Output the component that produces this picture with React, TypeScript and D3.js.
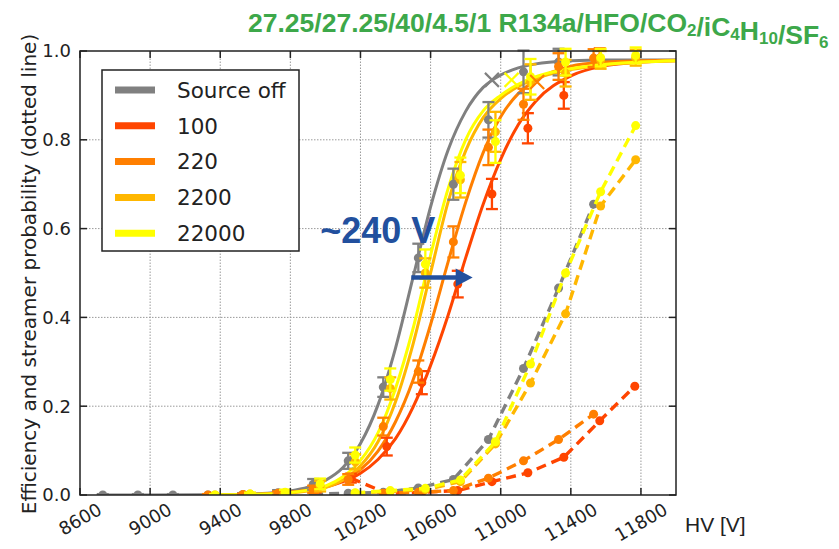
import React, { useEffect, useRef } from "react";
import * as d3 from "d3";

const W = 839;
const H = 549;
const margin = { top: 51, right: 163, bottom: 54, left: 80 };

const seriesNames = ["Source off", "100", "220", "2200", "22000"];
const seriesColors = ["#808080", "#ff4500", "#ff7f00", "#ffb700", "#ffff00"];

const xTicks = [8600, 9000, 9400, 9800, 10200, 10600, 11000, 11400, 11800];
const yTicks = [0, 0.2, 0.4, 0.6, 0.8, 1.0];

// fitted efficiency curves on a common HV grid (null = not drawn)
const fitHV = [8700, 9000, 9400, 9600, 9800, 9900, 10000, 10100, 10200, 10300, 10400, 10500, 10600, 10700, 10800, 10900, 11000, 11100, 11200, 11400, 11600, 11800, 12000];
const fitOff = [0, 0, 0.0006, 0.0024, 0.009, 0.0175, 0.033, 0.062, 0.116, 0.203, 0.331, 0.49, 0.649, 0.777, 0.864, 0.918, 0.946, 0.962, 0.971, 0.978, 0.98, 0.98, 0.98];
const fit100 = [null, null, null, null, 0.0064, 0.011, 0.018, 0.03, 0.049, 0.08, 0.127, 0.198, 0.292, 0.405, 0.534, 0.655, 0.756, 0.834, 0.887, 0.944, 0.967, 0.975, 0.978];
const fit220 = [null, null, null, 0.0019, 0.006, 0.011, 0.019, 0.033, 0.057, 0.099, 0.165, 0.259, 0.384, 0.525, 0.659, 0.771, 0.852, 0.904, 0.934, 0.966, 0.975, 0.978, 0.979];
const fit2200 = [null, null, 0.0003, 0.0012, 0.0045, 0.009, 0.017, 0.034, 0.066, 0.12, 0.21, 0.34, 0.5, 0.66, 0.775, 0.85, 0.893, 0.92, 0.938, 0.958, 0.969, 0.975, 0.978];
const fit22000 = [null, null, 0.0004, 0.0015, 0.0055, 0.011, 0.02, 0.041, 0.078, 0.14, 0.24, 0.375, 0.54, 0.69, 0.8, 0.865, 0.9, 0.925, 0.942, 0.96, 0.97, 0.975, 0.978];

// measured efficiency points with error bars
const hvOff = [8730, 8930, 9130, 9330, 9530, 9730, 9930, 10130, 10330, 10530, 10730, 10930, 11130, 11330];
const effOff = [0, 0, 0, 0, 0.001, 0.005, 0.024, 0.077, 0.243, 0.534, 0.7, 0.845, 0.953, 0.975];
const errOff = [0.002, 0.002, 0.002, 0.002, 0.003, 0.006, 0.012, 0.018, 0.022, 0.032, 0.035, 0.04, 0.048, 0.03];

const hv100 = [9745, 9945, 10145, 10350, 10550, 10755, 10950, 11155, 11360, 11565];
const eff100 = [0.003, 0.012, 0.038, 0.109, 0.253, 0.475, 0.678, 0.826, 0.9, 0.984];
const err100 = [0.004, 0.006, 0.01, 0.02, 0.026, 0.03, 0.034, 0.034, 0.03, 0.022];

const hv220 = [9330, 9530, 9730, 9930, 10130, 10330, 10530, 10730, 10930, 11130, 11330, 11530];
const eff220 = [0, 0.001, 0.004, 0.013, 0.035, 0.154, 0.278, 0.57, 0.783, 0.88, 0.965, 0.984];
const err220 = [0.002, 0.002, 0.004, 0.008, 0.012, 0.02, 0.025, 0.035, 0.04, 0.035, 0.03, 0.02];

const hv2200 = [9370, 9570, 9770, 9970, 10170, 10370, 10570, 10770, 10970, 11170, 11370, 11570, 11770];
const eff2200 = [0, 0.002, 0.005, 0.02, 0.075, 0.24, 0.5, 0.71, 0.818, 0.93, 0.95, 0.98, 0.985];
const err2200 = [0.002, 0.003, 0.006, 0.012, 0.017, 0.025, 0.033, 0.04, 0.045, 0.04, 0.03, 0.02, 0.018];

const hv22000 = [9370, 9570, 9770, 9970, 10170, 10370, 10570, 10770, 10970, 11170, 11370, 11570, 11770];
const eff22000 = [0, 0.002, 0.006, 0.025, 0.09, 0.26, 0.52, 0.72, 0.796, 0.942, 0.975, 0.985, 0.99];
const err22000 = [0.002, 0.003, 0.006, 0.012, 0.017, 0.025, 0.033, 0.04, 0.048, 0.04, 0.03, 0.02, 0.018];

// streamer probability (dashed)
const strHVOff = [9930, 10130, 10330, 10530, 10730, 10930, 11130, 11330, 11530];
const strOff = [0.002, 0.004, 0.006, 0.016, 0.035, 0.125, 0.285, 0.466, 0.655];
const strHV100 = [10145, 10350, 10550, 10755, 10950, 11155, 11360, 11565, 11765];
const str100 = [0.038, 0.004, 0.006, 0.01, 0.03, 0.05, 0.085, 0.167, 0.245];
const strHV220 = [10330, 10530, 10730, 10930, 11130, 11330, 11530];
const str220 = [0.004, 0.006, 0.01, 0.038, 0.077, 0.125, 0.182];
const strHV2200 = [10170, 10370, 10570, 10770, 10970, 11170, 11370, 11570, 11770];
const str2200 = [0.004, 0.008, 0.012, 0.03, 0.115, 0.252, 0.408, 0.651, 0.755];
const strHV22000 = [10170, 10370, 10570, 10770, 10970, 11170, 11370, 11570, 11770];
const str22000 = [0.005, 0.01, 0.015, 0.034, 0.12, 0.295, 0.5, 0.683, 0.832];

// working point crosses: series index, HV, efficiency
const wpSeries = [0, 4, 2];
const wpHV = [10950, 11062, 11208];
const wpEff = [0.935, 0.935, 0.93];

// "~240 V" shift arrow
const arrowHV = [10490, 10840];
const arrowEff = 0.49;

const App: React.FC = () => {
    const svgRef = useRef<SVGSVGElement | null>(null);

    useEffect(() => {
        if (!svgRef.current) return;
        const svg = d3.select(svgRef.current);
        svg.selectAll("*").remove();

        const x = d3.scaleLinear().domain([8600, 12000]).range([margin.left, W - margin.right]);
        const y = d3.scaleLinear().domain([0, 1]).range([H - margin.bottom, margin.top]);
        const x0 = margin.left, x1 = W - margin.right, y0 = H - margin.bottom, y1 = margin.top;

        const fits = [fitOff, fit100, fit220, fit2200, fit22000];
        const pts = [
            [hvOff, effOff, errOff],
            [hv100, eff100, err100],
            [hv220, eff220, err220],
            [hv2200, eff2200, err2200],
            [hv22000, eff22000, err22000],
        ];
        const strs = [
            [strHVOff, strOff],
            [strHV100, str100],
            [strHV220, str220],
            [strHV2200, str2200],
            [strHV22000, str22000],
        ];

        svg.append("defs").append("clipPath").attr("id", "plotclip")
            .append("rect").attr("x", x0).attr("y", y1 - 6).attr("width", x1 - x0).attr("height", y0 - y1 + 6);

        // grid
        const grid = svg.append("g").attr("stroke", "#9a9a9a").attr("stroke-width", 1).attr("stroke-dasharray", "1.5,1.5");
        xTicks.slice(1).forEach((t) => {
            grid.append("line").attr("x1", x(t)).attr("x2", x(t)).attr("y1", y0).attr("y2", y1);
        });
        yTicks.slice(1, -1).forEach((t) => {
            grid.append("line").attr("x1", x0).attr("x2", x1).attr("y1", y(t)).attr("y2", y(t));
        });

        const plot = svg.append("g").attr("clip-path", "url(#plotclip)");

        // fit curves
        fits.forEach((f, i) => {
            const line = d3.line<number>()
                .defined((d) => d !== null)
                .x((d, j) => x(fitHV[j]))
                .y((d) => y(d as number))
                .curve(d3.curveMonotoneX);
            plot.append("path")
                .attr("d", line(f as number[]))
                .attr("fill", "none")
                .attr("stroke", seriesColors[i])
                .attr("stroke-width", 3);
        });

        // streamer dashed lines
        strs.forEach((s, i) => {
            const [hv, p] = s;
            const line = d3.line<number>().x((d, j) => x(hv[j])).y((d) => y(d));
            plot.append("path")
                .attr("d", line(p))
                .attr("fill", "none")
                .attr("stroke", seriesColors[i])
                .attr("stroke-width", 3.4)
                .attr("stroke-dasharray", "10,6");
            plot.append("g").selectAll("circle").data(p).join("circle")
                .attr("cx", (d, j) => x(hv[j]))
                .attr("cy", (d) => y(d))
                .attr("r", 4.5)
                .attr("fill", seriesColors[i]);
        });

        // efficiency points with error bars
        pts.forEach((s, i) => {
            const [hv, eff, err] = s;
            const g = plot.append("g").attr("stroke", seriesColors[i]).attr("stroke-width", 2.3);
            eff.forEach((e, j) => {
                const cx = x(hv[j]);
                const ya = y(e + err[j]);
                const yb = y(Math.max(0, e - err[j]));
                g.append("line").attr("x1", cx).attr("x2", cx).attr("y1", ya).attr("y2", yb);
                g.append("line").attr("x1", cx - 6).attr("x2", cx + 6).attr("y1", ya).attr("y2", ya);
                g.append("line").attr("x1", cx - 6).attr("x2", cx + 6).attr("y1", yb).attr("y2", yb);
            });
            plot.append("g").selectAll("circle").data(eff).join("circle")
                .attr("cx", (d, j) => x(hv[j]))
                .attr("cy", (d) => y(d))
                .attr("r", 4.5)
                .attr("fill", seriesColors[i]);
        });

        // working point crosses
        wpSeries.forEach((si, k) => {
            const cx = x(wpHV[k]);
            const cy = y(wpEff[k]);
            const s = 7;
            plot.append("path")
                .attr("d", `M${cx - s},${cy - s}L${cx + s},${cy + s}M${cx - s},${cy + s}L${cx + s},${cy - s}`)
                .attr("stroke", seriesColors[si])
                .attr("stroke-width", 2.2)
                .attr("fill", "none");
        });

        // frame and inward ticks
        const fr = svg.append("g").attr("stroke", "#222").attr("stroke-width", 1.5).attr("fill", "none");
        fr.append("rect").attr("x", x0).attr("y", y1).attr("width", x1 - x0).attr("height", y0 - y1);
        xTicks.forEach((t) => {
            fr.append("line").attr("x1", x(t)).attr("x2", x(t)).attr("y1", y0).attr("y2", y0 - 7);
            fr.append("line").attr("x1", x(t)).attr("x2", x(t)).attr("y1", y1).attr("y2", y1 + 7);
        });
        yTicks.forEach((t) => {
            fr.append("line").attr("x1", x0).attr("x2", x0 + 7).attr("y1", y(t)).attr("y2", y(t));
            fr.append("line").attr("x1", x1).attr("x2", x1 - 7).attr("y1", y(t)).attr("y2", y(t));
        });

        // tick labels
        svg.append("g").selectAll("text").data(yTicks).join("text")
            .attr("x", x0 - 9)
            .attr("y", (d) => y(d))
            .attr("dy", "0.36em")
            .attr("text-anchor", "end")
            .attr("font-family", "DejaVu Sans")
            .attr("font-size", 18)
            .attr("fill", "#222")
            .text((d) => d.toFixed(1));

        svg.append("g").selectAll("text").data(xTicks).join("text")
            .attr("transform", (d) => `translate(${x(d)},${String(d).length > 4 ? 522 : 519}) rotate(-30)`)
            .attr("text-anchor", "middle")
            .attr("dy", "0.36em")
            .attr("font-family", "DejaVu Sans")
            .attr("font-size", 18)
            .attr("fill", "#222")
            .text((d) => String(d));

        // axis titles
        svg.append("text")
            .attr("transform", `translate(29,${(y0 + y1) / 2 + 1}) rotate(-90)`)
            .attr("text-anchor", "middle")
            .attr("dy", "0.36em")
            .attr("font-family", "DejaVu Sans")
            .attr("font-size", 20)
            .attr("fill", "#222")
            .text("Efficiency and streamer probability (dotted line)");

        svg.append("text")
            .attr("x", 685)
            .attr("y", 532)
            .attr("font-family", "Liberation Sans")
            .attr("font-size", 21)
            .attr("fill", "#222")
            .text("HV [V]");

        // legend
        const lg = svg.append("g");
        lg.append("rect").attr("x", 102).attr("y", 70).attr("width", 197).attr("height", 181)
            .attr("fill", "white").attr("stroke", "#222").attr("stroke-width", 1.5);
        seriesNames.forEach((n, i) => {
            const ly = 90 + i * 35.8;
            lg.append("line").attr("x1", 115).attr("x2", 155).attr("y1", ly).attr("y2", ly)
                .attr("stroke", seriesColors[i]).attr("stroke-width", 7);
            lg.append("text").attr("x", 177).attr("y", ly).attr("dy", "0.36em")
                .attr("font-family", "DejaVu Sans").attr("font-size", 21.5).attr("fill", "#222").text(n);
        });

        // title
        const title = svg.append("text")
            .attr("x", 248)
            .attr("y", 31.5)
            .attr("font-family", "Liberation Sans")
            .attr("font-weight", "bold")
            .attr("font-size", 26.5)
            .attr("fill", "#3da84a");
        const parts: [string, boolean][] = [
            ["27.25/27.25/40/4.5/1 R134a/HFO/CO", false], ["2", true], ["/iC", false], ["4", true],
            ["H", false], ["10", true], ["/SF", false], ["6", true],
        ];
        parts.forEach(([t, sub]) => {
            title.append("tspan")
                .attr("font-size", sub ? 17 : 26.5)
                .attr("dy", sub ? 4 : 0)
                .text(t);
            if (sub) title.append("tspan").attr("dy", -4).text("");
        });

        // annotation
        svg.append("text")
            .attr("x", x(9970))
            .attr("y", 243)
            .attr("font-family", "Liberation Sans")
            .attr("font-weight", "bold")
            .attr("font-size", 36)
            .attr("fill", "#22509e")
            .text("~240 V");
        const ay = y(arrowEff);
        const ax0 = x(arrowHV[0]);
        const ax1 = x(arrowHV[1]);
        svg.append("line").attr("x1", ax0).attr("x2", ax1 - 14).attr("y1", ay).attr("y2", ay)
            .attr("stroke", "#22509e").attr("stroke-width", 4.5);
        svg.append("path")
            .attr("d", `M${ax1 - 17},${ay - 9}L${ax1},${ay}L${ax1 - 17},${ay + 9}Z`)
            .attr("fill", "#22509e");
    }, []);

    return (
        <svg
            ref={svgRef}
            width={W}
            height={H}
            style={{ position: "absolute", left: 0, top: 0, background: "white" }}
        ></svg>
    );
};

export default App;
